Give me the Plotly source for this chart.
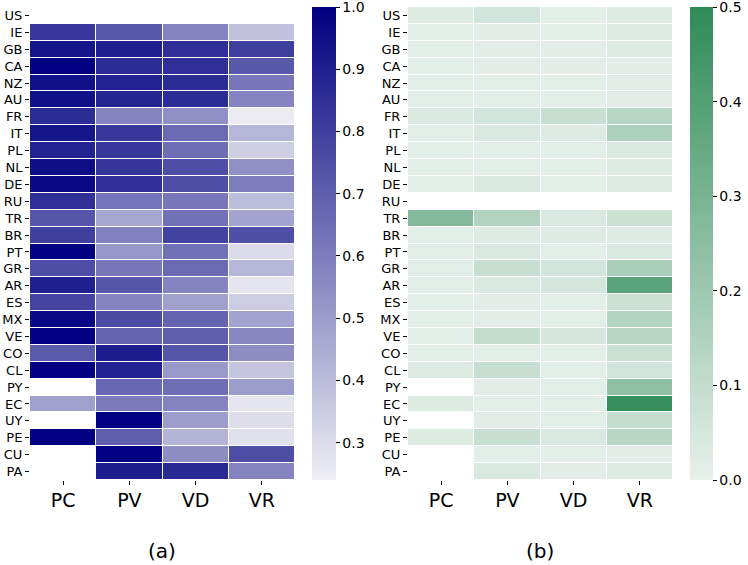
import plotly.graph_objects as go

countries = ["US", "IE", "GB", "CA", "NZ", "AU", "FR", "IT", "PL", "NL", "DE", "RU", "TR", "BR",
             "PT", "GR", "AR", "ES", "MX", "VE", "CO", "CL", "PY", "EC", "UY", "PE", "CU", "PA"]
measures = ["PC", "PV", "VD", "VR"]
N = None

# panel (a), one list per column
a_pc = [N, 0.82, 0.93, 1.00, 0.95, 0.95, 0.86, 0.93, 0.89, 0.96, 0.97, 0.85, 0.73, 0.80,
        1.00, 0.75, 0.90, 0.78, 0.97, 1.00, 0.71, 1.00, N, 0.49, N, 1.00, N, N]
a_pv = [N, 0.72, 0.90, 0.86, 0.89, 0.88, 0.58, 0.82, 0.82, 0.83, 0.85, 0.63, 0.47, 0.59,
        0.52, 0.62, 0.73, 0.58, 0.76, 0.68, 0.91, 0.89, 0.67, 0.61, 1.00, 0.70, 1.00, 0.91]
a_vd = [N, 0.58, 0.85, 0.85, 0.86, 0.86, 0.54, 0.66, 0.65, 0.75, 0.75, 0.62, 0.64, 0.79,
        0.64, 0.66, 0.58, 0.49, 0.68, 0.70, 0.73, 0.51, 0.65, 0.58, 0.50, 0.43, 0.55, 0.87]
a_vr = [N, 0.38, 0.80, 0.72, 0.62, 0.58, 0.25, 0.42, 0.34, 0.54, 0.60, 0.40, 0.48, 0.75,
        0.30, 0.42, 0.27, 0.35, 0.48, 0.57, 0.55, 0.37, 0.50, 0.27, 0.29, 0.28, 0.75, 0.58]

# panel (b)
b_pc = [0.03, 0.015, 0.015, 0.015, 0.015, 0.015, 0.04, 0.015, 0.015, 0.015, 0.015, N, 0.27, 0.015,
        0.015, 0.015, 0.015, 0.015, 0.015, 0.015, 0.015, 0.03, N, 0.03, N, 0.03, N, N]
b_pv = [0.06, 0.02, 0.02, 0.02, 0.015, 0.015, 0.06, 0.04, 0.015, 0.015, 0.04, N, 0.15, 0.03,
        0.04, 0.09, 0.04, 0.02, 0.02, 0.10, 0.015, 0.09, 0.02, 0.015, 0.02, 0.09, 0.015, 0.04]
b_vd = [0.015, 0.015, 0.02, 0.02, 0.015, 0.015, 0.09, 0.03, 0.015, 0.015, 0.015, N, 0.04, 0.03,
        0.015, 0.06, 0.05, 0.015, 0.015, 0.05, 0.015, 0.015, 0.015, 0.015, 0.015, 0.04, 0.015, 0.02]
b_vr = [0.03, 0.03, 0.03, 0.02, 0.02, 0.02, 0.13, 0.16, 0.04, 0.03, 0.03, N, 0.08, 0.03,
        0.04, 0.17, 0.38, 0.08, 0.14, 0.13, 0.08, 0.06, 0.24, 0.48, 0.10, 0.13, 0.02, 0.03]

z_a = [list(r) for r in zip(a_pc, a_pv, a_vd, a_vr)]
z_b = [list(r) for r in zip(b_pc, b_pv, b_vd, b_vr)]

W, H = 748, 565

def px(x):  # pixel x -> paper fraction
    return x / W

def py(y):  # pixel y (from top) -> paper fraction
    return (H - y) / H

top, bot = 7, 480
ydom = [py(bot), py(top)]
fnt = "DejaVu Sans"
PAD = 10

def cbar(x0, thick, vals):
    return dict(x=px(x0), xanchor="left", thickness=thick,
                lenmode="pixels", len=(bot - top) + 2 * PAD,
                y=(ydom[0] + ydom[1]) / 2, yanchor="middle",
                outlinewidth=0, xpad=0, ypad=PAD,
                tickvals=vals, tickformat=".1f", ticklabeloverflow="allow",
                ticks="outside", ticklen=4, tickcolor="black",
                tickfont=dict(size=14, color="black", family=fnt))

fig = go.Figure()

fig.add_trace(go.Heatmap(
    z=z_a, x=measures, y=countries, xaxis="x", yaxis="y",
    colorscale=[[0, "#EEEEF3"], [1, "#000080"]], zmin=0.24, zmax=1.0,
    xgap=1, ygap=1, hoverongaps=False,
    colorbar=cbar(312, 24, [0.3, 0.4, 0.5, 0.6, 0.7, 0.8, 0.9, 1.0]),
))

fig.add_trace(go.Heatmap(
    z=z_b, x=measures, y=countries, xaxis="x2", yaxis="y2",
    colorscale=[[0, "#E8F1EC"], [1, "#2E8B57"]], zmin=0.0, zmax=0.5,
    xgap=1, ygap=1, hoverongaps=False,
    colorbar=cbar(690, 23, [0.0, 0.1, 0.2, 0.3, 0.4, 0.5]),
))

xax = dict(showgrid=False, zeroline=False, ticks="outside", ticklen=4, tickcolor="black",
           tickfont=dict(size=19, color="black", family=fnt), showline=False,
           automargin=False, ticklabelstandoff=-1)
yax = dict(showgrid=False, zeroline=False, ticks="outside", ticklen=4, tickcolor="black",
           tickfont=dict(size=13, color="black", family=fnt), autorange="reversed",
           showline=False, dtick=1, automargin=False)

fig.update_layout(
    width=W, height=H,
    margin=dict(l=0, r=0, t=0, b=0, pad=0, autoexpand=False),
    paper_bgcolor="white", plot_bgcolor="white",
    font=dict(family=fnt, color="black"),
    xaxis=dict(domain=[px(30), px(295)], anchor="y", **xax),
    yaxis=dict(domain=ydom, anchor="x", **yax),
    xaxis2=dict(domain=[px(408), px(673)], anchor="y2", **xax),
    yaxis2=dict(domain=ydom, anchor="x2", **yax),
    annotations=[
        dict(text="(a)", x=px(162), y=py(551), xref="paper", yref="paper",
             xanchor="center", yanchor="middle",
             showarrow=False, font=dict(size=20, color="black", family=fnt)),
        dict(text="(b)", x=px(540), y=py(551), xref="paper", yref="paper",
             xanchor="center", yanchor="middle",
             showarrow=False, font=dict(size=20, color="black", family=fnt)),
    ],
)

# the page body has a default 8px margin; drop it so the figure fills the window
fig.write_html("out.html", config={"displayModeBar": False},
               post_script="document.body.style.margin='0';")
